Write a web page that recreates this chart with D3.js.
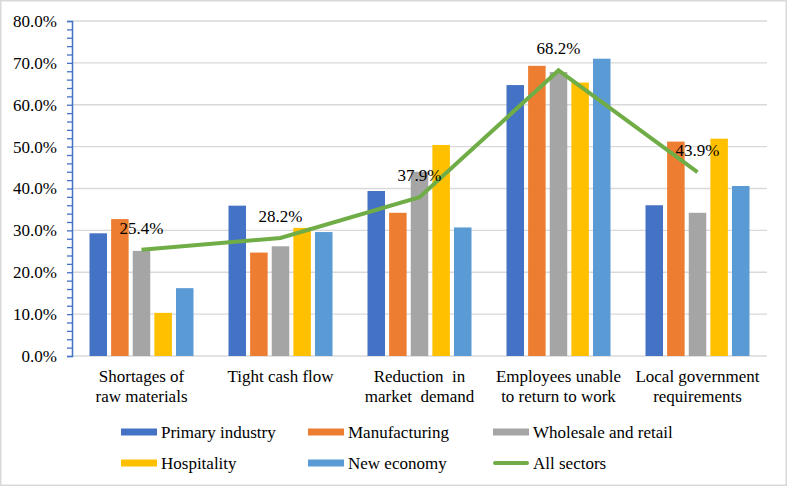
<!DOCTYPE html>
<html>
<head>
<meta charset="utf-8">
<script src="https://cdn.jsdelivr.net/npm/d3@7"></script>
<style>
  html, body { margin: 0; padding: 0; background: #fff; }
  svg, svg text { font-family: "Liberation Serif", "Times New Roman", serif; }
</style>
</head>
<body>
<div id="chart"></div>
<script>
'use strict'

// categories, two lines each
var categories = [
  ['Shortages of', 'raw materials'],
  ['Tight cash flow', ''],
  ['Reduction  in', 'market  demand'],
  ['Employees unable', 'to return to work'],
  ['Local government', 'requirements']
]

var seriesNames = ['Primary industry', 'Manufacturing', 'Wholesale and retail', 'Hospitality', 'New economy']
var seriesColors = ['#4472C4', '#ED7D31', '#A5A5A5', '#FFC000', '#5B9BD5']

var primary = [29.3, 35.9, 39.4, 64.7, 36.0]
var manufacturing = [32.7, 24.7, 34.2, 69.3, 51.2]
var wholesale = [25.1, 26.2, 44.0, 67.8, 34.2]
var hospitality = [10.3, 30.6, 50.4, 65.3, 51.9]
var newEconomy = [16.2, 29.6, 30.7, 71.0, 40.6]
var seriesValues = [primary, manufacturing, wholesale, hospitality, newEconomy]

var allSectorsName = 'All sectors'
var allSectorsColor = '#70AD47'
var allSectors = [25.4, 28.2, 37.9, 68.2, 43.9]

var yTicks = [0, 10, 20, 30, 40, 50, 60, 70, 80]

var W = 788
var H = 487
var margin = { top: 21, right: 21, bottom: 131, left: 72 }
var FONT = '"Liberation Serif", "Times New Roman", serif'

var svg = d3.select('#chart').append('svg')
  .attr('width', W)
  .attr('height', H)

// outer frame
svg.append('rect')
  .attr('x', 0.75).attr('y', 0.75)
  .attr('width', W - 2.5).attr('height', H - 2.5)
  .attr('fill', '#fff')
  .attr('stroke', '#d9d9d9')
  .attr('stroke-width', 1.5)

var x0 = d3.scaleBand()
  .domain(d3.range(categories.length))
  .range([margin.left, W - margin.right])

var half = 52
var x1 = d3.scaleBand()
  .domain(d3.range(seriesNames.length))
  .range([x0.bandwidth() / 2 - half, x0.bandwidth() / 2 + half])
  .paddingInner(0.19)

var y = d3.scaleLinear()
  .domain([0, 80])
  .range([H - margin.bottom, margin.top])

// gridlines
svg.append('g').attr('class', 'grid')
  .selectAll('line')
  .data(yTicks.slice(1))
  .enter().append('line')
  .attr('x1', margin.left)
  .attr('x2', W - margin.right)
  .attr('y1', function (d) { return y(d) })
  .attr('y2', function (d) { return y(d) })
  .style('stroke', '#d9d9d9')
  .style('stroke-width', '1.3px')

// x axis base line
svg.append('line')
  .attr('x1', margin.left)
  .attr('x2', W - margin.right)
  .attr('y1', y(0))
  .attr('y2', y(0))
  .style('stroke', '#d9d9d9')
  .style('stroke-width', '1.3px')

// bars
var groups = svg.append('g').attr('class', 'bars')
  .selectAll('g')
  .data(categories)
  .enter().append('g')
  .attr('transform', function (d, i) { return 'translate(' + x0(i) + ',0)' })

groups.selectAll('rect')
  .data(function (d, i) {
    return seriesValues.map(function (vals, s) { return { s: s, v: vals[i] } })
  })
  .enter().append('rect')
  .attr('x', function (d) { return x1(d.s) })
  .attr('width', x1.bandwidth())
  .attr('y', function (d) { return y(d.v) })
  .attr('height', function (d) { return y(0) - y(d.v) })
  .attr('fill', function (d) { return seriesColors[d.s] })

// y axis
var yAxis = d3.axisLeft(y)
  .tickValues(d3.range(0, 81, 2))
  .tickSize(5)
  .tickPadding(10)
  .tickFormat(function (d) { return d % 10 === 0 ? d.toFixed(1) + '%' : '' })

var ya = svg.append('g')
  .attr('transform', 'translate(' + margin.left + ',0)')
  .call(yAxis)
  .attr('font-family', FONT)
  .attr('font-size', 17)
ya.select('.domain').attr('stroke', '#4472C4').attr('stroke-width', 1.5)
ya.selectAll('.tick line').attr('stroke', '#4472C4').attr('stroke-width', 1.3)
ya.selectAll('.tick text').attr('fill', '#000')

// all sectors line
var line = d3.line()
  .x(function (d, i) { return x0(i) + x0.bandwidth() / 2 })
  .y(function (d) { return y(d) })

svg.append('path')
  .datum(allSectors)
  .attr('d', line)
  .attr('fill', 'none')
  .attr('stroke', allSectorsColor)
  .attr('stroke-width', 4)
  .attr('stroke-linejoin', 'miter')

svg.append('g').attr('class', 'labels')
  .attr('font-family', FONT)
  .selectAll('text')
  .data(allSectors)
  .enter().append('text')
  .attr('x', function (d, i) { return x0(i) + x0.bandwidth() / 2 })
  .attr('y', function (d) { return y(d) - 16 })
  .attr('text-anchor', 'middle')
  .style('font-size', '17px')
  .text(function (d) { return d.toFixed(1) + '%' })

// category labels
var cat = svg.append('g').attr('class', 'categories')
  .attr('font-family', FONT)
  .selectAll('text')
  .data(categories)
  .enter().append('text')
  .attr('x', function (d, i) { return x0(i) + x0.bandwidth() / 2 })
  .attr('y', 382)
  .attr('text-anchor', 'middle')
  .style('font-size', '17px')
  .style('white-space', 'pre')

cat.append('tspan')
  .attr('x', function (d, i) { return x0(i) + x0.bandwidth() / 2 })
  .text(function (d) { return d[0] })
cat.append('tspan')
  .attr('x', function (d, i) { return x0(i) + x0.bandwidth() / 2 })
  .attr('dy', 19.5)
  .text(function (d) { return d[1] })

// legend
var legendItems = seriesNames.map(function (n, i) {
  return { name: n, color: seriesColors[i], type: 'bar' }
})
legendItems.push({ name: allSectorsName, color: allSectorsColor, type: 'line' })

var legendCols = [121, 308, 493]
var legendRows = [432, 463]

var leg = svg.append('g').attr('class', 'legend')
  .attr('font-family', FONT)
  .selectAll('g')
  .data(legendItems)
  .enter().append('g')
  .attr('transform', function (d, i) {
    return 'translate(' + legendCols[i % 3] + ',' + legendRows[Math.floor(i / 3)] + ')'
  })

leg.append('rect')
  .attr('x', 0)
  .attr('width', 36)
  .attr('y', function (d) { return d.type === 'bar' ? -3.5 : -2 })
  .attr('height', function (d) { return d.type === 'bar' ? 7 : 4 })
  .attr('rx', function (d) { return d.type === 'bar' ? 0 : 2 })
  .attr('fill', function (d) { return d.color })

leg.append('text')
  .attr('x', 40)
  .attr('y', 6)
  .style('font-size', '17px')
  .text(function (d) { return d.name })
</script>
</body>
</html>
